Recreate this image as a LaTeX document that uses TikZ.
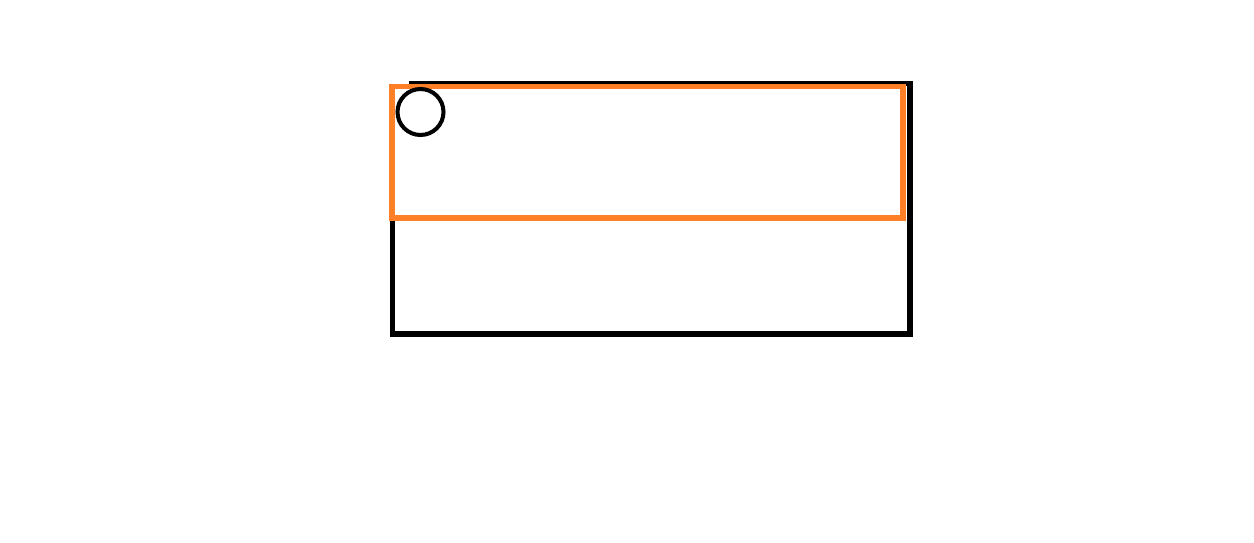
\documentclass[tikz,border=0pt]{standalone}
\usepackage{tikz}
\usetikzlibrary{positioning}
\usepackage{xcolor}
\definecolor{paintorange}{RGB}{255,127,39}
\tikzset{
  frm/.style={draw=black, line width=2.9pt, line join=miter},
  sel/.style={draw=paintorange, line width=2.9pt},
  mark0/.style={draw=black, line width=2.3pt},
}

\begin{document}
\begin{tikzpicture}[x=0.02cm, y=-0.02cm]
  % Canvas
  \useasboundingbox (0,0) rectangle (1254,543);

  % Outer frame (top starts right of the selection corner)
  \draw[frm] (409,83.5) -- (910,83.5) -- (910,334) -- (392.5,334) -- (392.5,90);

  % Orange selection box
  \draw[sel] (392,86.5) rectangle (903,218);

  % Small circle in the corner
  \draw[mark0] (420.5,112) circle (23);
\end{tikzpicture}
\end{document}
